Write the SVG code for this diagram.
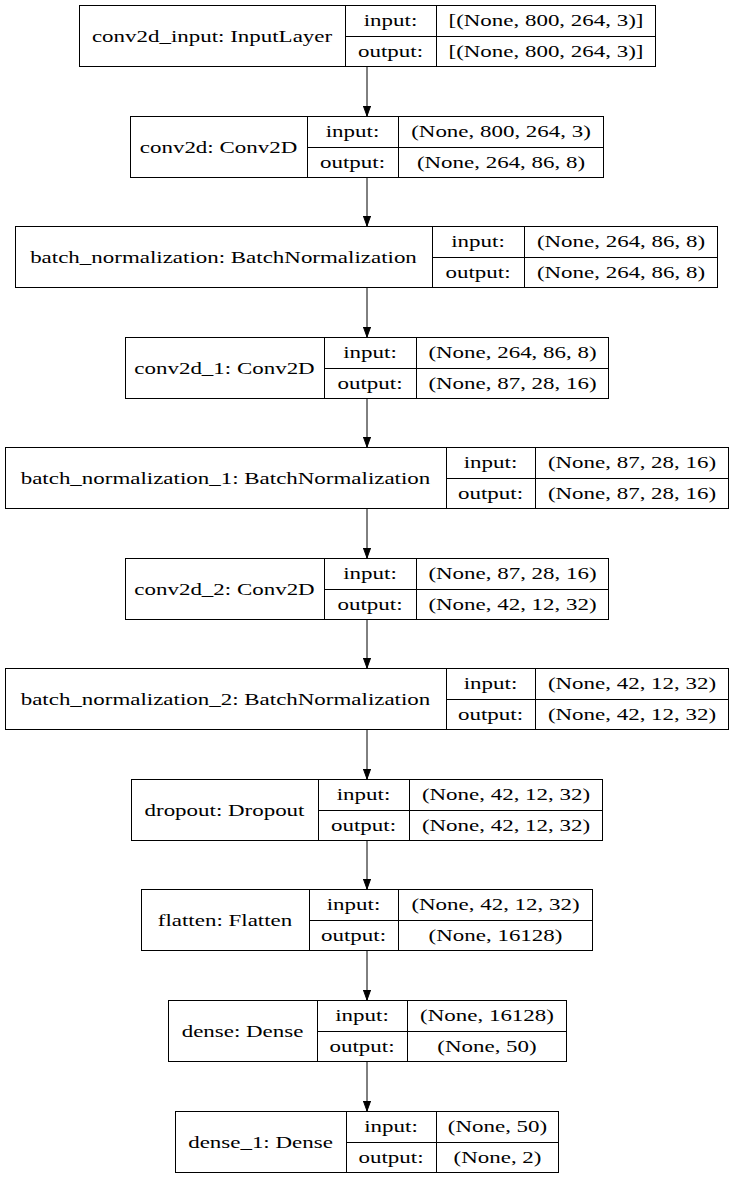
<svg xmlns="http://www.w3.org/2000/svg" width="735" height="1180" viewBox="0 0 735 1180" font-family="'Liberation Serif', 'Times New Roman', serif">
<defs>
<style>
.b{fill:#fff;stroke:#000;stroke-width:1}
.l{stroke:#000;stroke-width:1;fill:none}
text{font-size:17px;fill:#000;text-anchor:middle}
.e{stroke:#000;stroke-width:1;fill:none;marker-end:url(#ah)}
</style>
<marker id="ah" markerUnits="userSpaceOnUse" markerWidth="10" markerHeight="8" refX="10" refY="4" orient="auto">
<path d="M0,0.4 L10,4 L0,7.6 z" fill="#000" stroke="#000" stroke-width="1"/>
</marker>
</defs>
<rect width="735" height="1180" fill="#fff"/>
<g id="edges">
<line class="e" x1="367" y1="67" x2="367" y2="116"/>
<line class="e" x1="367" y1="178" x2="367" y2="226"/>
<line class="e" x1="367" y1="288" x2="367" y2="337"/>
<line class="e" x1="367" y1="399" x2="367" y2="447"/>
<line class="e" x1="367" y1="509" x2="367" y2="558"/>
<line class="e" x1="367" y1="620" x2="367" y2="668"/>
<line class="e" x1="367" y1="730" x2="367" y2="779"/>
<line class="e" x1="367" y1="841" x2="367" y2="889"/>
<line class="e" x1="367" y1="951" x2="367" y2="1000"/>
<line class="e" x1="367" y1="1062" x2="367" y2="1111"/>
</g>
<g id="n1">
<rect class="b" x="79.5" y="5.5" width="576" height="61"/>
<path class="l" d="M345.5,5.5V66.5M436.5,5.5V66.5M345.5,36.5H655.5"/>
<text transform="translate(212,41.5) scale(1.35,1)">conv2d_input: InputLayer</text>
<text transform="translate(390.5,26) scale(1.35,1)">input:</text>
<text transform="translate(390.5,57) scale(1.35,1)">output:</text>
<text transform="translate(546,26) scale(1.35,1)">[(None, 800, 264, 3)]</text>
<text transform="translate(546,57) scale(1.35,1)">[(None, 800, 264, 3)]</text>
</g>
<g id="n2">
<rect class="b" x="130.5" y="116.5" width="473" height="61"/>
<path class="l" d="M307.5,116.5V177.5M398.5,116.5V177.5M307.5,147.5H603.5"/>
<text transform="translate(218.5,152.5) scale(1.35,1)">conv2d: Conv2D</text>
<text transform="translate(352.5,137) scale(1.35,1)">input:</text>
<text transform="translate(352.5,168) scale(1.35,1)">output:</text>
<text transform="translate(501,137) scale(1.35,1)">(None, 800, 264, 3)</text>
<text transform="translate(501,168) scale(1.35,1)">(None, 264, 86, 8)</text>
</g>
<g id="n3">
<rect class="b" x="15.5" y="226.5" width="702" height="61"/>
<path class="l" d="M432.5,226.5V287.5M524.5,226.5V287.5M432.5,257.5H717.5"/>
<text transform="translate(223.5,262.5) scale(1.35,1)">batch_normalization: BatchNormalization</text>
<text transform="translate(478,247) scale(1.35,1)">input:</text>
<text transform="translate(478,278) scale(1.35,1)">output:</text>
<text transform="translate(621,247) scale(1.35,1)">(None, 264, 86, 8)</text>
<text transform="translate(621,278) scale(1.35,1)">(None, 264, 86, 8)</text>
</g>
<g id="n4">
<rect class="b" x="125.5" y="337.5" width="483" height="61"/>
<path class="l" d="M324.5,337.5V398.5M416.5,337.5V398.5M324.5,368.5H608.5"/>
<text transform="translate(224.5,373.5) scale(1.35,1)">conv2d_1: Conv2D</text>
<text transform="translate(370,358) scale(1.35,1)">input:</text>
<text transform="translate(370,389) scale(1.35,1)">output:</text>
<text transform="translate(512.5,358) scale(1.35,1)">(None, 264, 86, 8)</text>
<text transform="translate(512.5,389) scale(1.35,1)">(None, 87, 28, 16)</text>
</g>
<g id="n5">
<rect class="b" x="5.5" y="447.5" width="723" height="61"/>
<path class="l" d="M446.5,447.5V508.5M535.5,447.5V508.5M446.5,478.5H728.5"/>
<text transform="translate(225.5,483.5) scale(1.35,1)">batch_normalization_1: BatchNormalization</text>
<text transform="translate(490.5,468) scale(1.35,1)">input:</text>
<text transform="translate(490.5,499) scale(1.35,1)">output:</text>
<text transform="translate(632,468) scale(1.35,1)">(None, 87, 28, 16)</text>
<text transform="translate(632,499) scale(1.35,1)">(None, 87, 28, 16)</text>
</g>
<g id="n6">
<rect class="b" x="125.5" y="558.5" width="483" height="61"/>
<path class="l" d="M324.5,558.5V619.5M416.5,558.5V619.5M324.5,589.5H608.5"/>
<text transform="translate(224.5,594.5) scale(1.35,1)">conv2d_2: Conv2D</text>
<text transform="translate(370,579) scale(1.35,1)">input:</text>
<text transform="translate(370,610) scale(1.35,1)">output:</text>
<text transform="translate(512.5,579) scale(1.35,1)">(None, 87, 28, 16)</text>
<text transform="translate(512.5,610) scale(1.35,1)">(None, 42, 12, 32)</text>
</g>
<g id="n7">
<rect class="b" x="5.5" y="668.5" width="723" height="61"/>
<path class="l" d="M446.5,668.5V729.5M535.5,668.5V729.5M446.5,699.5H728.5"/>
<text transform="translate(225.5,704.5) scale(1.35,1)">batch_normalization_2: BatchNormalization</text>
<text transform="translate(490.5,689) scale(1.35,1)">input:</text>
<text transform="translate(490.5,720) scale(1.35,1)">output:</text>
<text transform="translate(632,689) scale(1.35,1)">(None, 42, 12, 32)</text>
<text transform="translate(632,720) scale(1.35,1)">(None, 42, 12, 32)</text>
</g>
<g id="n8">
<rect class="b" x="131.5" y="779.5" width="471" height="61"/>
<path class="l" d="M318.5,779.5V840.5M409.5,779.5V840.5M318.5,810.5H602.5"/>
<text transform="translate(224.5,815.5) scale(1.35,1)">dropout: Dropout</text>
<text transform="translate(363.5,800) scale(1.35,1)">input:</text>
<text transform="translate(363.5,831) scale(1.35,1)">output:</text>
<text transform="translate(506,800) scale(1.35,1)">(None, 42, 12, 32)</text>
<text transform="translate(506,831) scale(1.35,1)">(None, 42, 12, 32)</text>
</g>
<g id="n9">
<rect class="b" x="141.5" y="889.5" width="451" height="61"/>
<path class="l" d="M309.5,889.5V950.5M398.5,889.5V950.5M309.5,920.5H592.5"/>
<text transform="translate(225,925.5) scale(1.35,1)">flatten: Flatten</text>
<text transform="translate(353.5,910) scale(1.35,1)">input:</text>
<text transform="translate(353.5,941) scale(1.35,1)">output:</text>
<text transform="translate(495.5,910) scale(1.35,1)">(None, 42, 12, 32)</text>
<text transform="translate(495.5,941) scale(1.35,1)">(None, 16128)</text>
</g>
<g id="n10">
<rect class="b" x="168.5" y="1000.5" width="398" height="61"/>
<path class="l" d="M317.5,1000.5V1061.5M407.5,1000.5V1061.5M317.5,1031.5H566.5"/>
<text transform="translate(242.5,1036.5) scale(1.35,1)">dense: Dense</text>
<text transform="translate(362,1021) scale(1.35,1)">input:</text>
<text transform="translate(362,1052) scale(1.35,1)">output:</text>
<text transform="translate(487,1021) scale(1.35,1)">(None, 16128)</text>
<text transform="translate(487,1052) scale(1.35,1)">(None, 50)</text>
</g>
<g id="n11">
<rect class="b" x="175.5" y="1111.5" width="383" height="61"/>
<path class="l" d="M346.5,1111.5V1172.5M436.5,1111.5V1172.5M346.5,1142.5H558.5"/>
<text transform="translate(260.5,1147.5) scale(1.35,1)">dense_1: Dense</text>
<text transform="translate(391,1132) scale(1.35,1)">input:</text>
<text transform="translate(391,1163) scale(1.35,1)">output:</text>
<text transform="translate(497.5,1132) scale(1.35,1)">(None, 50)</text>
<text transform="translate(497.5,1163) scale(1.35,1)">(None, 2)</text>
</g>
</svg>
